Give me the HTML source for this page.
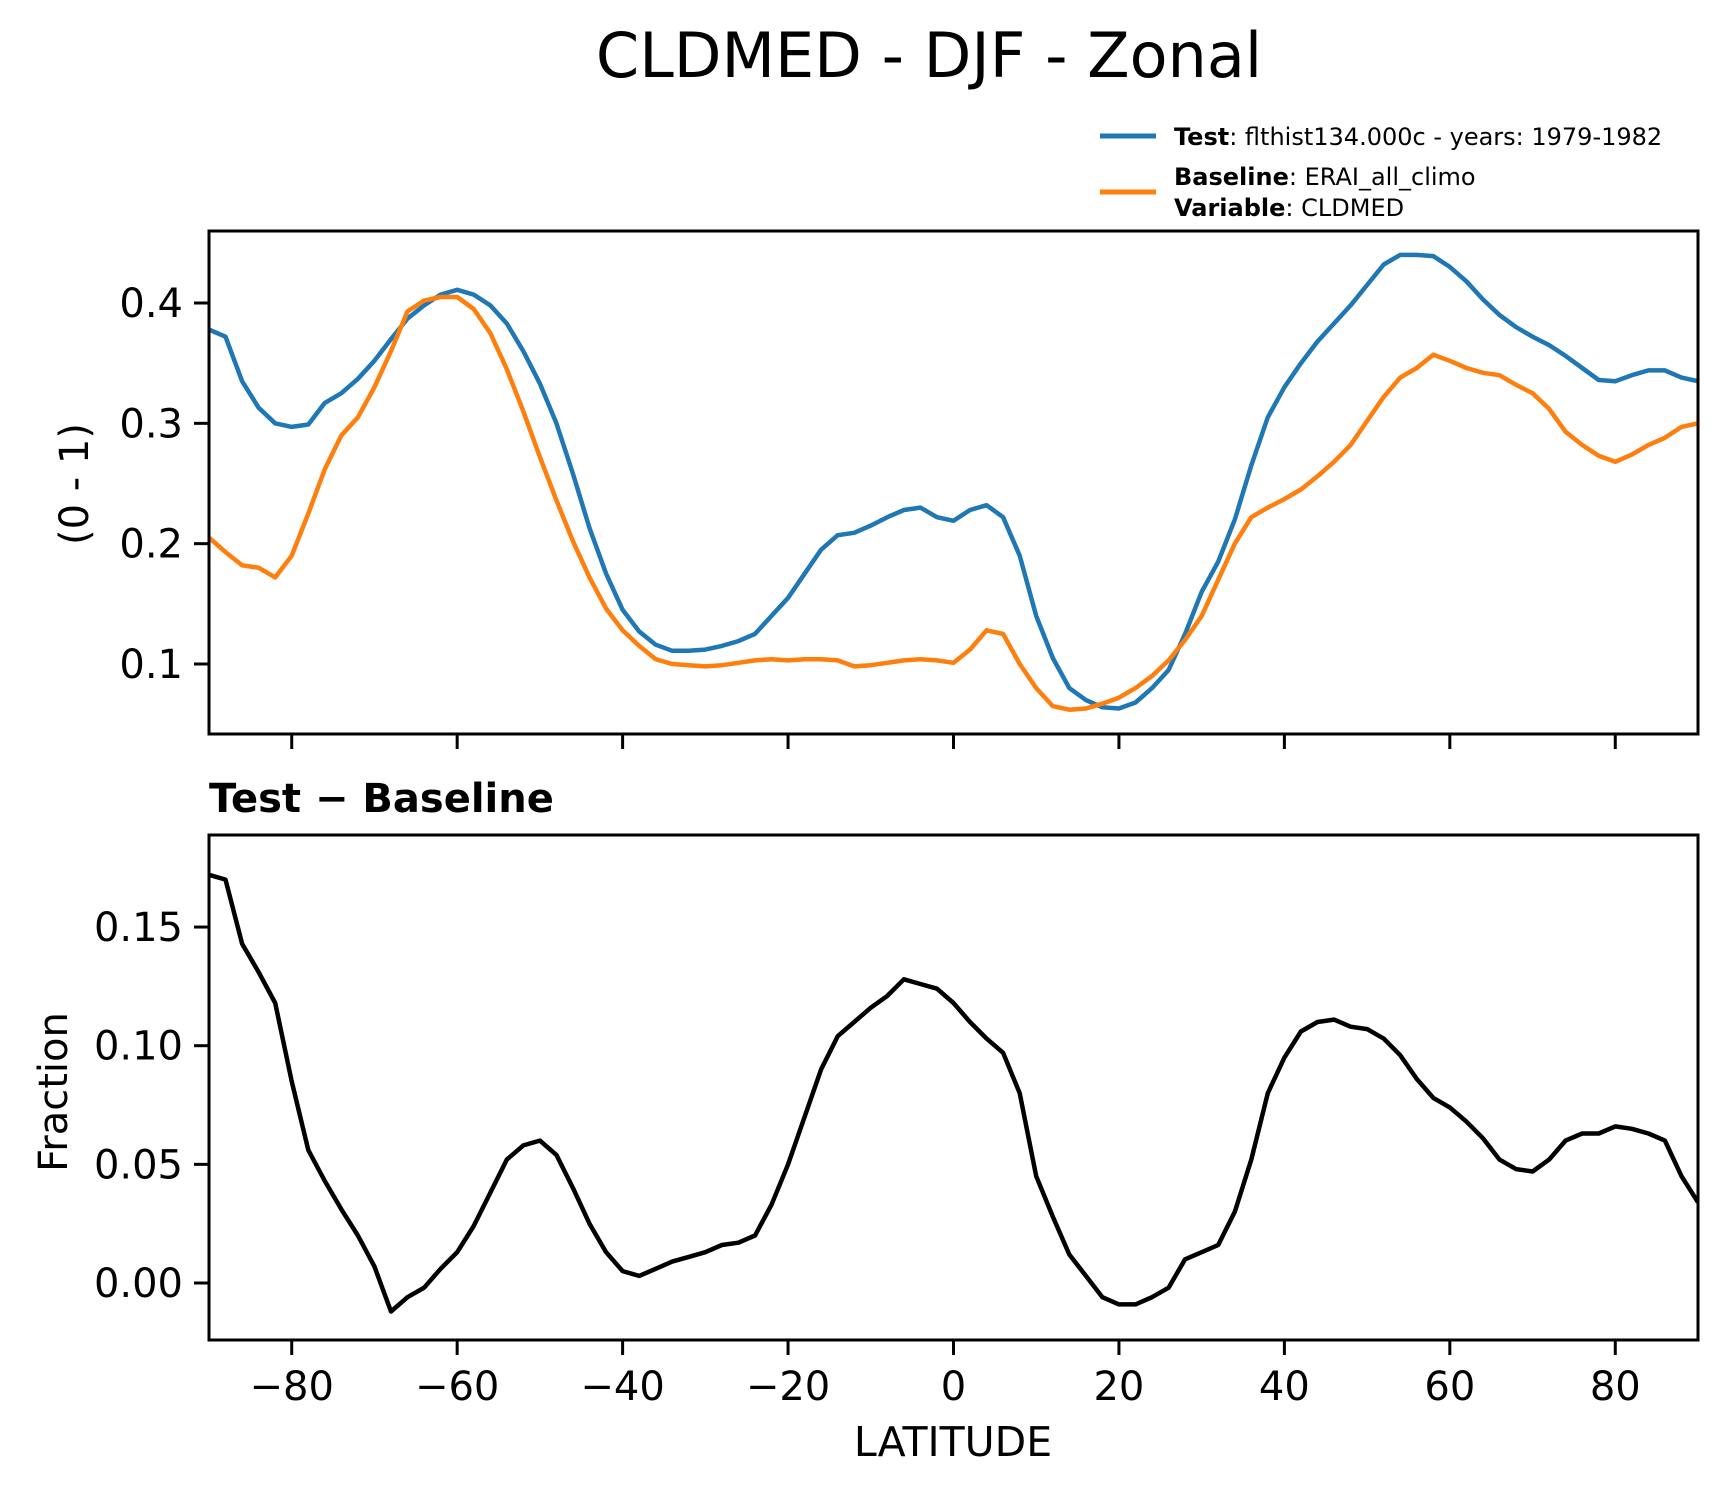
<!DOCTYPE html>
<html><head><meta charset="utf-8"><style>
body{margin:0;background:#fff}
svg{display:block;font-family:"DejaVu Sans","Liberation Sans",sans-serif}
</style></head><body>
<svg id="chart" width="1726" height="1496" viewBox="0 0 1726 1496" xmlns="http://www.w3.org/2000/svg">
<text x="929" y="77" font-size="62" text-anchor="middle">CLDMED - DJF - Zonal</text>
<g font-size="24">
<line x1="1100" y1="136" x2="1156" y2="136" stroke="#1f77b4" stroke-width="5"/>
<text x="1174" y="145"><tspan font-weight="bold">Test</tspan>: flthist134.000c - years: 1979-1982</text>
<line x1="1100" y1="192" x2="1156" y2="192" stroke="#ff7f0e" stroke-width="5"/>
<text x="1174" y="185"><tspan font-weight="bold">Baseline</tspan>: ERAI_all_climo</text>
<text x="1174" y="216"><tspan font-weight="bold">Variable</tspan>: CLDMED</text>
</g>
<text x="209" y="812" font-size="40" font-weight="bold">Test − Baseline</text>
<text transform="translate(88,484) rotate(-90)" font-size="40" text-anchor="middle">(0 - 1)</text>
<text transform="translate(67,1092) rotate(-90)" font-size="40" text-anchor="middle">Fraction</text>
<text x="953" y="1456" font-size="41" text-anchor="middle">LATITUDE</text>
<g id="plots"></g>
</svg>
<script>
const lats = [];
for (let l = -90; l <= 90; l += 2) lats.push(l);
const testVals = [.378,.372,.335,.313,.300,.297,.299,.317,.325,.337,.352,.370,.387,.398,.407,.411,.407,.398,.383,.360,.333,.300,.258,.213,.175,.145,.127,.116,.111,.111,.112,.115,.119,.125,.140,.155,.175,.195,.207,.209,.215,.222,.228,.230,.222,.219,.228,.232,.222,.190,.140,.105,.080,.070,.064,.063,.068,.080,.095,.125,.160,.185,.220,.265,.305,.330,.350,.368,.383,.398,.415,.432,.440,.440,.439,.430,.418,.403,.390,.380,.372,.365,.356,.346,.336,.335,.340,.344,.344,.338,.335];
const baseVals = [.205,.193,.182,.180,.172,.190,.225,.262,.290,.305,.330,.360,.393,.402,.405,.405,.395,.375,.345,.310,.272,.236,.202,.172,.146,.128,.115,.104,.100,.099,.098,.099,.101,.103,.104,.103,.104,.104,.103,.098,.099,.101,.103,.104,.103,.101,.112,.128,.125,.100,.080,.065,.062,.063,.067,.072,.080,.090,.103,.120,.140,.170,.200,.222,.230,.237,.245,.256,.268,.282,.302,.322,.338,.346,.357,.352,.346,.342,.340,.332,.325,.312,.293,.282,.273,.268,.274,.282,.288,.297,.300];
const diffVals = [.172,.170,.143,.131,.118,.085,.056,.043,.031,.020,.007,-.012,-.006,-.002,.006,.013,.024,.038,.052,.058,.060,.054,.040,.025,.013,.005,.003,.006,.009,.011,.013,.016,.017,.020,.033,.050,.070,.090,.104,.110,.116,.121,.128,.126,.124,.118,.110,.103,.097,.080,.045,.028,.012,.003,-.006,-.009,-.009,-.006,-.002,.010,.013,.016,.030,.052,.080,.095,.106,.110,.111,.108,.107,.103,.096,.086,.078,.074,.068,.061,.052,.048,.047,.052,.060,.063,.063,.066,.065,.063,.060,.045,.034];
const xTicks = [-80,-60,-40,-20,0,20,40,60,80];
const xTickLabels = ["−80","−60","−40","−20","0","20","40","60","80"];
const topYTicks = [0.1,0.2,0.3,0.4];
const topYLabels = ["0.1","0.2","0.3","0.4"];
const botYTicks = [0,0.05,0.10,0.15];
const botYLabels = ["0.00","0.05","0.10","0.15"];

const NS = "http://www.w3.org/2000/svg";
const g = document.getElementById('plots');
const X0 = 209, X1 = 1698;
const xs = v => X0 + (v + 90) / 180 * (X1 - X0);
const topY = v => 303 + (0.4 - v) * 1203.3;
const botY = v => 1283 + (0 - v) * 2373;
function el(tag, attrs){const e=document.createElementNS(NS,tag);for(const k in attrs)e.setAttribute(k,attrs[k]);g.appendChild(e);return e;}
function line(vals, yf, color, name){
  const d = vals.map((v,i)=>(i?'L':'M')+xs(lats[i]).toFixed(1)+','+yf(v).toFixed(1)).join(' ');
  const p = el('path',{d:d,fill:'none',stroke:color,'stroke-width':4.5,'stroke-linejoin':'round'});
  
  
}
function axes(top, bot, yTicks, yLabels, yf, name, showX){
  const clip = el('clipPath',{id:'c'+name});
  const r = document.createElementNS(NS,'rect');
  r.setAttribute('x',X0);r.setAttribute('y',top);r.setAttribute('width',X1-X0);r.setAttribute('height',bot-top);
  clip.appendChild(r);
  yTicks.forEach((t,i)=>{
    const y = yf(t);
    const tk = el('line',{x1:X0-15,x2:X0,y1:y,y2:y,stroke:'#000','stroke-width':3});
    
    
    const tx = el('text',{x:X0-26,y:y+14,'font-size':40,'text-anchor':'end'});
    tx.textContent = yLabels[i];
    
    
  });
  xTicks.forEach((t,i)=>{
    const x = xs(t);
    const tk = el('line',{x1:x,x2:x,y1:bot,y2:bot+15,stroke:'#000','stroke-width':3});
    
    
    if(showX){
      const tx = el('text',{x:x,y:bot+60,'font-size':40,'text-anchor':'middle'});
      tx.textContent = xTickLabels[i];
      
      
    }
  });
}
axes(231,734,topYTicks,topYLabels,topY,'top',false);
axes(835,1340,botYTicks,botYLabels,botY,'bottom',true);
const gt = el('g',{'clip-path':'url(#ctop)'});
const gb = el('g',{'clip-path':'url(#cbottom)'});
line(testVals, topY, '#1f77b4', 'test-line'); gt.appendChild(g.lastChild);
line(baseVals, topY, '#ff7f0e', 'baseline-line'); gt.appendChild(g.lastChild);
line(diffVals, botY, '#000000', 'difference-line'); gb.appendChild(g.lastChild);
const f1 = el('rect',{x:X0,y:231,width:X1-X0,height:503,fill:'none',stroke:'#000','stroke-width':3});


const f2 = el('rect',{x:X0,y:835,width:X1-X0,height:505,fill:'none',stroke:'#000','stroke-width':3});


</script>
</body></html>
